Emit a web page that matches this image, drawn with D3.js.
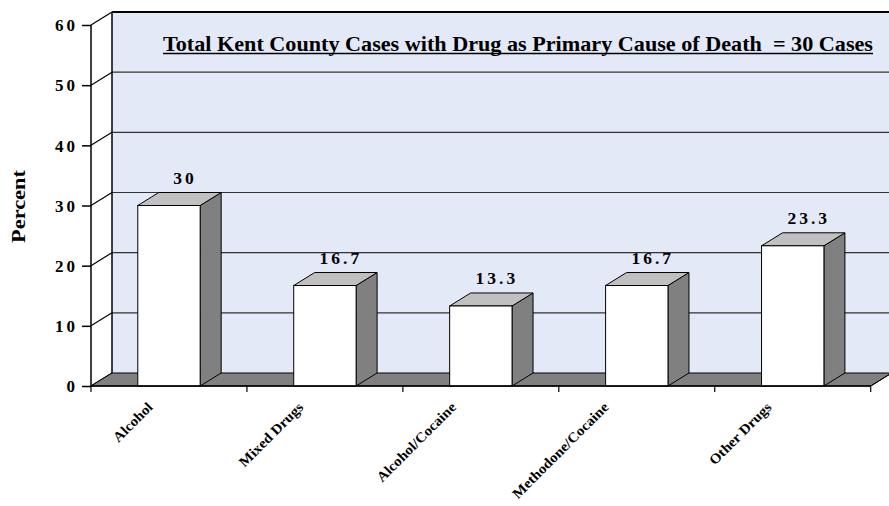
<!DOCTYPE html>
<html>
<head>
<meta charset="utf-8">
<script src="https://cdn.jsdelivr.net/npm/d3@7"></script>
<style>
  html, body { margin: 0; padding: 0; background: #ffffff; }
  svg { display: block; }
  svg text { font-family: "Liberation Serif", "Times New Roman", serif; font-weight: bold; fill: #000; }
</style>
</head>
<body>
<svg id="chart" width="889" height="506" font-family="Liberation Serif"></svg>
<script>
// Chart data
const categories = ["Alcohol", "Mixed Drugs", "Alcohol/Cocaine", "Methodone/Cocaine", "Other Drugs"];
const percentValues = [30, 16.7, 13.3, 16.7, 23.3];
const valueLabels = ["30", "16.7", "13.3", "16.7", "23.3"];
const yTicks = [0, 10, 20, 30, 40, 50, 60];
const yAxisTitle = "Percent";
const chartTitle = "Total Kent County Cases with Drug as Primary Cause of Death  = 30 Cases";

// Geometry of the 3-D frame
const frontLeft = 91, frontRight = 870.7, frontBottom = 386, frontTop = 25;
const depthX = 21, depthY = 13;

const svg = d3.select("#chart");

const x = d3.scaleBand().domain(categories).range([frontLeft, frontRight]).padding(0);
const y = d3.scaleLinear().domain([0, 60]).range([frontBottom, frontTop]);

const backLeft = frontLeft + depthX, backRight = frontRight + depthX;
const back = v => y(v) - depthY;
const pts = arr => arr.map(p => p.join(",")).join(" ");

// Back wall
svg.append("rect")
  .attr("x", backLeft).attr("y", back(60))
  .attr("width", backRight - backLeft).attr("height", back(0) - back(60))
  .attr("fill", "#e4e9f8");

// Back-wall gridlines
svg.append("g").selectAll("line")
  .data(yTicks.filter(t => t > 0 && t < 60))
  .join("line")
  .attr("x1", backLeft).attr("x2", backRight)
  .attr("y1", d => back(d)).attr("y2", d => back(d))
  .attr("stroke", "#333").attr("stroke-width", 1.2);

// Top edge of back wall
svg.append("line")
  .attr("x1", backLeft).attr("x2", backRight)
  .attr("y1", back(60)).attr("y2", back(60))
  .attr("stroke", "#000").attr("stroke-width", 2);

// Left side wall
svg.append("polygon")
  .attr("points", pts([[frontLeft, y(0)], [frontLeft, y(60)], [backLeft, back(60)], [backLeft, back(0)]]))
  .attr("fill", "#ffffff");

svg.append("line")
  .attr("x1", backLeft).attr("x2", backLeft)
  .attr("y1", back(60)).attr("y2", back(0))
  .attr("stroke", "#000").attr("stroke-width", 1.5);

// Side-wall diagonal gridlines
svg.append("g").selectAll("line")
  .data(yTicks)
  .join("line")
  .attr("x1", frontLeft).attr("y1", d => y(d))
  .attr("x2", backLeft).attr("y2", d => back(d))
  .attr("stroke", "#000").attr("stroke-width", 1.2);

// Floor
svg.append("polygon")
  .attr("points", pts([[frontLeft, y(0)], [frontRight, y(0)], [backRight, back(0)], [backLeft, back(0)]]))
  .attr("fill", "#808080").attr("stroke", "#000").attr("stroke-width", 1);

// Bars
const barW = x.bandwidth() * 0.4;
const bars = svg.append("g").selectAll("g")
  .data(categories.map((c, i) => ({ c, v: percentValues[i], label: valueLabels[i] })))
  .join("g");

bars.each(function (d) {
  const g = d3.select(this);
  const cx = x(d.c) + x.bandwidth() / 2;
  const x0 = cx - barW / 2, x1 = cx + barW / 2;
  const yt = y(d.v), yb = y(0);
  // side face
  g.append("polygon")
    .attr("points", pts([[x1, yt], [x1 + depthX, yt - depthY], [x1 + depthX, yb - depthY], [x1, yb]]))
    .attr("fill", "#808080").attr("stroke", "#000").attr("stroke-width", 1).attr("stroke-linejoin", "round");
  // top face
  g.append("polygon")
    .attr("points", pts([[x0, yt], [x1, yt], [x1 + depthX, yt - depthY], [x0 + depthX, yt - depthY]]))
    .attr("fill", "#c0c0c0").attr("stroke", "#000").attr("stroke-width", 1).attr("stroke-linejoin", "round");
  // front face
  g.append("rect")
    .attr("x", x0).attr("y", yt).attr("width", barW).attr("height", yb - yt)
    .attr("fill", "#ffffff").attr("stroke", "#000").attr("stroke-width", 1);
  // value label
  g.append("text")
    .attr("x", cx + 16).attr("y", yt - depthY - 9)
    .attr("text-anchor", "middle")
    .style("font-size", "17.5px").style("letter-spacing", "3px")
    .text(d.label);
});

// Front axis lines
svg.append("line")
  .attr("x1", frontLeft).attr("x2", frontLeft)
  .attr("y1", y(60)).attr("y2", y(0))
  .attr("stroke", "#000").attr("stroke-width", 1.5);
svg.append("line")
  .attr("x1", frontLeft).attr("x2", frontRight)
  .attr("y1", y(0)).attr("y2", y(0))
  .attr("stroke", "#000").attr("stroke-width", 1.5);
svg.append("line")
  .attr("x1", frontRight).attr("y1", y(0))
  .attr("x2", backRight).attr("y2", back(0))
  .attr("stroke", "#000").attr("stroke-width", 1);

// Y axis ticks and labels
const yAxis = d3.axisLeft(y).tickValues(yTicks).tickSize(9).tickPadding(7).tickFormat(d3.format("d"));
const yAxisG = svg.append("g").attr("transform", `translate(${frontLeft},0)`).call(yAxis);
yAxisG.attr("font-family", null).attr("font-size", null);
yAxisG.select(".domain").remove();
yAxisG.selectAll(".tick line").attr("stroke", "#000").attr("stroke-width", 1.5);
yAxisG.selectAll(".tick text")
  .style("font-size", "17px").style("letter-spacing", "3px")
  .attr("x", -13).attr("dy", "0.34em");

// X axis ticks at category boundaries
const boundaries = categories.map(c => x(c)).concat([frontRight]);
svg.append("g").selectAll("line")
  .data(boundaries)
  .join("line")
  .attr("x1", d => d).attr("x2", d => d)
  .attr("y1", y(0)).attr("y2", y(0) + 6)
  .attr("stroke", "#000").attr("stroke-width", 1.2);

// Category labels, rotated
const catLabels = svg.append("g").selectAll("text")
  .data(categories)
  .join("text")
  .style("font-size", "14px")
  .attr("text-anchor", "end")
  .text(d => d);
catLabels.each(function (d) {
  const t = d3.select(this);
  const len = this.getComputedTextLength() * 1.08;
  t.attr("textLength", len).attr("lengthAdjust", "spacingAndGlyphs");
  const ex = x(d) + x.bandwidth() / 2 - 0.15 * len - 8;
  const ey = y(0) + 22;
  t.attr("transform", `translate(${ex},${ey}) rotate(-45)`);
});

// Y axis title
svg.append("text")
  .attr("transform", "translate(25,206.5) rotate(-90)")
  .attr("text-anchor", "middle")
  .style("font-size", "18px")
  .attr("textLength", 73).attr("lengthAdjust", "spacingAndGlyphs")
  .text(yAxisTitle);

// Chart title with underline
svg.append("text")
  .attr("x", 163).attr("y", 50.5)
  .style("font-size", "21px").style("white-space", "pre")
  .attr("textLength", 710).attr("lengthAdjust", "spacingAndGlyphs")
  .text(chartTitle);
svg.append("line")
  .attr("x1", 163).attr("x2", 873)
  .attr("y1", 53.5).attr("y2", 53.5)
  .attr("stroke", "#000").attr("stroke-width", 1.3);
</script>
</body>
</html>
